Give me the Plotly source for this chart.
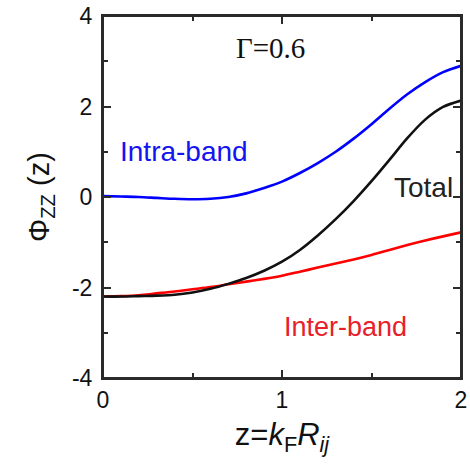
import plotly.graph_objects as go

# Reduced distance z = k_F * R_ij
z = [0.0, 0.1, 0.2, 0.3, 0.4, 0.5, 0.6, 0.7, 0.8, 0.9, 1.0,
     1.1, 1.2, 1.3, 1.4, 1.5, 1.6, 1.7, 1.8, 1.9, 2.0]

# Phi_zz(z) contributions at Gamma = 0.6
intra_band = [0.02, 0.01, 0.0, -0.02, -0.04, -0.05, -0.04, 0.0, 0.08, 0.2, 0.34,
              0.53, 0.75, 1.0, 1.29, 1.61, 1.95, 2.27, 2.54, 2.76, 2.9]
inter_band = [-2.2, -2.19, -2.17, -2.13, -2.09, -2.04, -1.99, -1.93, -1.87, -1.81, -1.74,
              -1.65, -1.56, -1.47, -1.38, -1.28, -1.17, -1.06, -0.96, -0.87, -0.78]
total = [-2.2, -2.2, -2.19, -2.18, -2.16, -2.11, -2.03, -1.92, -1.79, -1.63, -1.43,
         -1.17, -0.85, -0.49, -0.09, 0.35, 0.82, 1.3, 1.71, 1.99, 2.13]

x_ticks = [0, 1, 2]
y_ticks = [-4, -2, 0, 2, 4]

SANS = "Liberation Sans, Arial, sans-serif"
SERIF = "Liberation Serif, Times New Roman, serif"
AXIS_COLOR = "#2a2a2a"

fig = go.Figure()
for values, color in ((inter_band, "#ff0000"), (intra_band, "#0000ff"), (total, "#111111")):
    fig.add_trace(go.Scatter(x=z, y=values, mode="lines",
                             line=dict(color=color, width=2.6, shape="spline", smoothing=0.8)))

fig.add_annotation(x=0.935, y=3.3, text="Γ=0.6", showarrow=False,
                   font=dict(family=SERIF, size=29, color="#111111"))
fig.add_annotation(x=0.45, y=1.0, text="Intra-band", showarrow=False,
                   font=dict(family=SANS, size=28, color="#1414f0"))
fig.add_annotation(x=1.79, y=0.22, text="Total", showarrow=False,
                   font=dict(family=SANS, size=28, color="#222222"))
fig.add_annotation(x=1.355, y=-2.88, text="Inter-band", showarrow=False,
                   font=dict(family=SANS, size=27, color="#e8202a"))

# box around the plotting area
fig.add_shape(type="rect", xref="x domain", yref="y domain", x0=0, y0=0, x1=1, y1=1,
              line=dict(color=AXIS_COLOR, width=2), layer="above")

axis_common = dict(
    showline=True, linecolor=AXIS_COLOR, linewidth=2, mirror="ticks",
    ticks="inside", ticklen=8, tickwidth=1.5, tickcolor=AXIS_COLOR,
    showgrid=False, zeroline=False, ticklabeloverflow="allow",
    tickfont=dict(family=SANS, size=23, color="#111111"),
)

fig.update_xaxes(
    range=[0, 2], tickvals=x_ticks, ticktext=[str(v) for v in x_ticks],
    minor=dict(dtick=0.5, ticks="inside", ticklen=5, tickwidth=1.5, tickcolor=AXIS_COLOR, showgrid=False),
    title=dict(text="z=<i>k</i><sub>F</sub><i>R<sub>ij</sub></i>",
               font=dict(family=SANS, size=31, color="#111111"), standoff=12),
    **axis_common,
)
fig.update_yaxes(
    range=[-4, 4], tickvals=y_ticks, ticktext=[str(v) for v in y_ticks],
    minor=dict(dtick=1, ticks="inside", ticklen=5, tickwidth=1.5, tickcolor=AXIS_COLOR, showgrid=False),
    ticklabelstandoff=4,
    title=dict(text="Φ<sub>ZZ</sub> (z)",
               font=dict(family=SANS, size=29, color="#111111"), standoff=14),
    **axis_common,
)

fig.update_layout(
    width=470, height=466,
    margin=dict(l=103, r=3, t=14, b=88),
    plot_bgcolor="white", paper_bgcolor="white",
    showlegend=False,
)

fig.write_html("out.html")
